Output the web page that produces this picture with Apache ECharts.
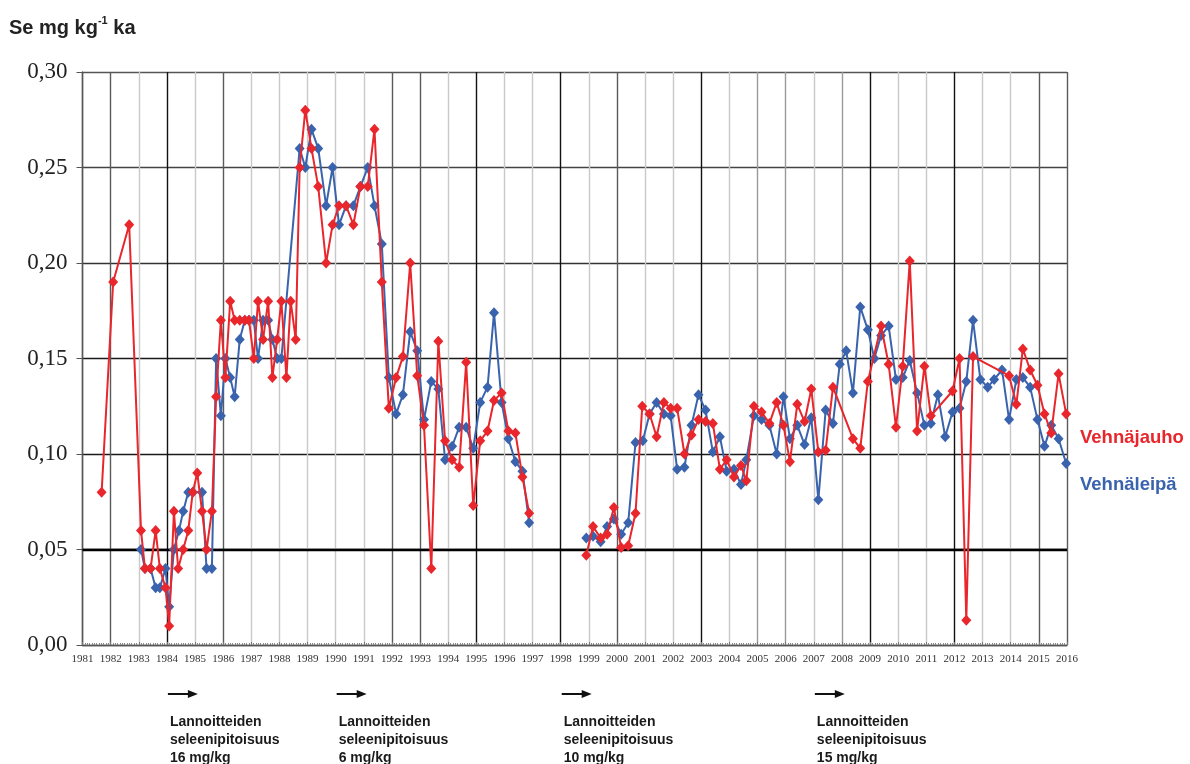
<!DOCTYPE html>
<html>
<head>
<meta charset="utf-8">
<title>Se mg kg-1 ka</title>
<script src="https://cdn.jsdelivr.net/npm/echarts@6/dist/echarts.min.js"></script>
<style>
  html, body { margin: 0; padding: 0; background: #ffffff; }
  #chart { width: 1190px; height: 764px; }
</style>
</head>
<body>
<div id="chart"></div>
<script>
// Vehnäjauho (wheat flour): sampling time (decimal year) and Se content
const flourTime = [
  1981.68, 1982.09, 1982.66, 1983.08, 1983.22, 1983.42, 1983.60, 1983.75, 1983.95, 1984.08,
  1984.25, 1984.40, 1984.58, 1984.76, 1984.92, 1985.08, 1985.25, 1985.41, 1985.60, 1985.75,
  1985.92, 1986.08, 1986.25, 1986.41, 1986.59, 1986.77, 1986.92, 1987.09, 1987.24, 1987.42,
  1987.60, 1987.75, 1987.92, 1988.07, 1988.25, 1988.40, 1988.58, 1988.72, 1988.92, 1989.14,
  1989.38, 1989.66, 1989.89, 1990.12, 1990.37, 1990.63, 1990.88, 1991.14, 1991.38, 1991.64,
  1991.89, 1992.15, 1992.39, 1992.65, 1992.90, 1993.14, 1993.40, 1993.65, 1993.89, 1994.14,
  1994.39, 1994.64, 1994.89, 1995.14, 1995.40, 1995.63, 1995.90, 1996.14, 1996.39, 1996.64,
  1996.88, 1997.90,
  1998.91, 1999.15, 1999.42, 1999.65, 1999.89, 2000.15, 2000.40, 2000.66, 2000.90, 2001.16,
  2001.41, 2001.67, 2001.91, 2002.14, 2002.40, 2002.65, 2002.90, 2003.15, 2003.41, 2003.66,
  2003.90, 2004.16, 2004.41, 2004.60, 2004.87, 2005.14, 2005.42, 2005.68, 2005.92, 2006.15,
  2006.41, 2006.67, 2006.91, 2007.16, 2007.42, 2007.68, 2008.39, 2008.65, 2008.92, 2009.39,
  2009.66, 2009.92, 2010.16, 2010.41, 2010.67, 2010.93, 2011.16, 2011.93, 2012.18, 2012.42,
  2012.66, 2013.94, 2014.20, 2014.43, 2014.69, 2014.95, 2015.20, 2015.44, 2015.70, 2015.97
];
const flourSe = [
  0.080, 0.190, 0.220, 0.060, 0.040, 0.040, 0.060, 0.040, 0.030, 0.010,
  0.070, 0.040, 0.050, 0.060, 0.080, 0.090, 0.070, 0.050, 0.070, 0.130,
  0.170, 0.140, 0.180, 0.170, 0.170, 0.170, 0.170, 0.150, 0.180, 0.160,
  0.180, 0.140, 0.160, 0.180, 0.140, 0.180, 0.160, 0.250, 0.280, 0.260,
  0.240, 0.200, 0.220, 0.230, 0.230, 0.220, 0.240, 0.240, 0.270, 0.190,
  0.124, 0.140, 0.151, 0.200, 0.141, 0.115, 0.040, 0.159, 0.107, 0.097,
  0.093, 0.148, 0.073, 0.107, 0.112, 0.128, 0.132, 0.112, 0.111, 0.088,
  0.069, null,
  0.047, 0.062, 0.056, 0.058, 0.072, 0.051, 0.052, 0.069, 0.125, 0.121,
  0.109, 0.127, 0.124, 0.124, 0.100, 0.110, 0.118, 0.117, 0.116, 0.092,
  0.097, 0.088, 0.094, 0.086, 0.125, 0.122, 0.116, 0.127, 0.115, 0.096,
  0.126, 0.117, 0.134, 0.101, 0.102, 0.135, 0.108, 0.103, 0.138, 0.167,
  0.147, 0.114, 0.146, 0.201, 0.112, 0.146, 0.120, 0.133, 0.150, 0.013,
  0.151, 0.141, 0.126, 0.155, 0.144, 0.136, 0.121, 0.111, 0.142, 0.121
];

// Vehnäleipä (wheat bread): sampling time (decimal year) and Se content
const breadTime = [
  1983.08, 1983.22, 1983.42, 1983.60, 1983.75, 1983.95, 1984.08, 1984.25, 1984.43, 1984.58,
  1984.76, 1984.92, 1985.25, 1985.41, 1985.60, 1985.75, 1985.92, 1986.08, 1986.25, 1986.41,
  1986.59, 1986.77, 1986.92, 1987.09, 1987.24, 1987.42, 1987.60, 1987.75, 1987.92, 1988.07,
  1988.72, 1988.92, 1989.14, 1989.38, 1989.66, 1989.89, 1990.12, 1990.37, 1990.63, 1990.88,
  1991.14, 1991.38, 1991.64, 1991.89, 1992.15, 1992.39, 1992.65, 1992.90, 1993.14, 1993.40,
  1993.65, 1993.89, 1994.14, 1994.39, 1994.64, 1994.89, 1995.14, 1995.40, 1995.63, 1995.90,
  1996.14, 1996.39, 1996.64, 1996.88, 1997.90,
  1998.91, 1999.15, 1999.42, 1999.65, 1999.89, 2000.15, 2000.40, 2000.66, 2000.92, 2001.16,
  2001.41, 2001.67, 2001.91, 2002.14, 2002.40, 2002.65, 2002.90, 2003.15, 2003.41, 2003.66,
  2003.90, 2004.16, 2004.41, 2004.60, 2004.87, 2005.14, 2005.42, 2005.68, 2005.92, 2006.15,
  2006.41, 2006.67, 2006.91, 2007.16, 2007.42, 2007.68, 2007.92, 2008.15, 2008.39, 2008.65,
  2008.92, 2009.15, 2009.39, 2009.66, 2009.92, 2010.16, 2010.41, 2010.67, 2010.93, 2011.16,
  2011.41, 2011.67, 2011.93, 2012.18, 2012.42, 2012.66, 2012.92, 2013.18, 2013.41, 2013.69,
  2013.94, 2014.20, 2014.43, 2014.69, 2014.95, 2015.20, 2015.44, 2015.70, 2015.97
];
const breadSe = [
  0.050, 0.040, 0.040, 0.030, 0.030, 0.040, 0.020, 0.050, 0.060, 0.070,
  0.080, 0.080, 0.080, 0.040, 0.040, 0.150, 0.120, 0.150, 0.140, 0.130,
  0.160, 0.170, 0.170, 0.170, 0.150, 0.170, 0.170, 0.160, 0.150, 0.150,
  0.260, 0.250, 0.270, 0.260, 0.230, 0.250, 0.220, 0.230, 0.230, 0.240,
  0.250, 0.230, 0.210, 0.140, 0.121, 0.131, 0.164, 0.154, 0.118, 0.138,
  0.134, 0.097, 0.104, 0.114, 0.114, 0.103, 0.127, 0.135, 0.174, 0.127,
  0.108, 0.096, 0.091, 0.064, null,
  0.056, 0.057, 0.054, 0.062, 0.066, 0.058, 0.064, 0.106, 0.107, 0.121,
  0.127, 0.121, 0.120, 0.092, 0.093, 0.115, 0.131, 0.123, 0.101, 0.109,
  0.091, 0.092, 0.084, 0.097, 0.120, 0.118, 0.115, 0.100, 0.130, 0.108,
  0.115, 0.105, 0.119, 0.076, 0.123, 0.116, 0.147, 0.154, 0.132, 0.177,
  0.165, 0.150, 0.162, 0.167, 0.139, 0.140, 0.149, 0.132, 0.115, 0.116,
  0.131, 0.109, 0.122, 0.124, 0.138, 0.170, 0.139, 0.135, 0.139, 0.144,
  0.118, 0.139, 0.140, 0.135, 0.118, 0.104, 0.115, 0.108, 0.095
];

// Fertiliser selenium level changes shown under the axis
const fertYears = [1984, 1990, 1998, 2007];
const fertLevels = ['16 mg/kg', '6 mg/kg', '10 mg/kg', '15 mg/kg'];

const seriesNames = ['Vehnäjauho', 'Vehnäleipä'];
const RED = '#e8262b';
const BLUE = '#3a63ad';

// year grid line shades
const blackYears = [1984, 1995, 1998, 2003, 2009, 2012];
const darkYears = [1981, 1982, 1986, 1992, 1993, 2000, 2015, 2016];
const midYears = [2005, 2006, 2008];
const yearLineColors = [];
for (let y = 1981; y <= 2016; y++) {
  if (blackYears.includes(y)) yearLineColors.push('#111111');
  else if (darkYears.includes(y)) yearLineColors.push('#5a5a5a');
  else if (midYears.includes(y)) yearLineColors.push('#9a9a9a');
  else yearLineColors.push('#c9c9c9');
}

const pairs = (t, v) => t.map((x, i) => [x, v[i] === null ? '-' : v[i]]);

const chart = echarts.init(document.getElementById('chart'), null, { renderer: 'canvas' });

chart.setOption({
  animation: false,
  backgroundColor: '#ffffff',
  title: {
    text: '{a|Se mg kg}{s|-1}{a| ka}',
    left: 4,
    top: 10,
    textStyle: {
      rich: {
        a: { fontFamily: 'Liberation Sans', fontWeight: 'bold', fontSize: 20, color: '#222222', lineHeight: 26 },
        s: { fontFamily: 'Liberation Sans', fontWeight: 'bold', fontSize: 11, color: '#222222', verticalAlign: 'top', lineHeight: 14 }
      }
    }
  },
  legend: {
    orient: 'vertical',
    left: 1070,
    top: 423,
    itemGap: 27,
    itemWidth: 0,
    itemHeight: 20,
    icon: 'none',
    selectedMode: false,
    textStyle: { fontFamily: 'Liberation Sans', fontWeight: 'bold', fontSize: 18.5 },
    data: [
      { name: seriesNames[0], textStyle: { color: RED } },
      { name: seriesNames[1], textStyle: { color: BLUE } }
    ]
  },
  grid: { left: 82.5, right: 123, top: 72, bottom: 119, containLabel: false },
  xAxis: {
    type: 'value',
    min: 1981,
    max: 2016,
    interval: 1,
    axisLine: { show: true, lineStyle: { color: '#555555', width: 1.4 } },
    axisTick: { show: true, inside: true, length: 3, lineStyle: { color: '#777777' } },
    minorTick: { show: true, splitNumber: 12, length: 2, lineStyle: { color: '#888888' } },
    axisLabel: {
      formatter: v => String(v),
      fontFamily: 'Liberation Serif',
      fontSize: 11,
      color: '#333333',
      margin: 9
    },
    splitLine: { show: true, lineStyle: { color: yearLineColors, width: 1.4 } }
  },
  yAxis: {
    type: 'value',
    min: 0,
    max: 0.3,
    interval: 0.05,
    axisLine: { show: true, lineStyle: { color: '#555555', width: 1.4 } },
    axisTick: { show: true, inside: false, length: 6, lineStyle: { color: '#555555' } },
    axisLabel: {
      formatter: v => v.toFixed(2).replace('.', ','),
      fontFamily: 'Liberation Serif',
      fontSize: 23,
      color: '#222222',
      margin: 15
    },
    splitLine: {
      show: true,
      lineStyle: { color: ['#555555', '#000000', '#1a1a1a', '#1a1a1a', '#333333', '#444444', '#555555'], width: 1.4 }
    }
  },
  series: [
    {
      name: seriesNames[1],
      type: 'line',
      data: pairs(breadTime, breadSe),
      connectNulls: false,
      symbol: 'diamond',
      symbolSize: [10, 11],
      color: BLUE,
      lineStyle: { color: BLUE, width: 2 },
      itemStyle: { color: BLUE },
      z: 3,
      markLine: {
        silent: true,
        symbol: 'none',
        label: { show: false },
        lineStyle: { color: '#000000', width: 2.4, type: 'solid' },
        data: [{ yAxis: 0.05 }],
        z: 1
      }
    },
    {
      name: seriesNames[0],
      type: 'line',
      data: pairs(flourTime, flourSe),
      connectNulls: false,
      symbol: 'diamond',
      symbolSize: [10, 11],
      color: RED,
      lineStyle: { color: RED, width: 2 },
      itemStyle: { color: RED },
      z: 4
    }
  ]
});

// Arrows and fertiliser notes placed at their year on the x scale
const notes = [];
const arrowY = 694;
fertYears.forEach((yr, i) => {
  const x0 = chart.convertToPixel({ xAxisIndex: 0 }, yr) + 1;
  notes.push({
    type: 'line',
    shape: { x1: x0, y1: arrowY, x2: x0 + 22, y2: arrowY },
    style: { stroke: '#111111', lineWidth: 2 }
  });
  notes.push({
    type: 'polygon',
    shape: { points: [[x0 + 20, arrowY - 4], [x0 + 30, arrowY], [x0 + 20, arrowY + 4]] },
    style: { fill: '#111111' }
  });
  notes.push({
    type: 'text',
    x: x0 + 2,
    y: 713,
    style: {
      text: 'Lannoitteiden\nseleenipitoisuus\n' + fertLevels[i],
      font: 'bold 14px "Liberation Sans"',
      fill: '#1a1a1a',
      lineHeight: 18,
      textVerticalAlign: 'top'
    }
  });
});
chart.setOption({ graphic: notes });
</script>
</body>
</html>
